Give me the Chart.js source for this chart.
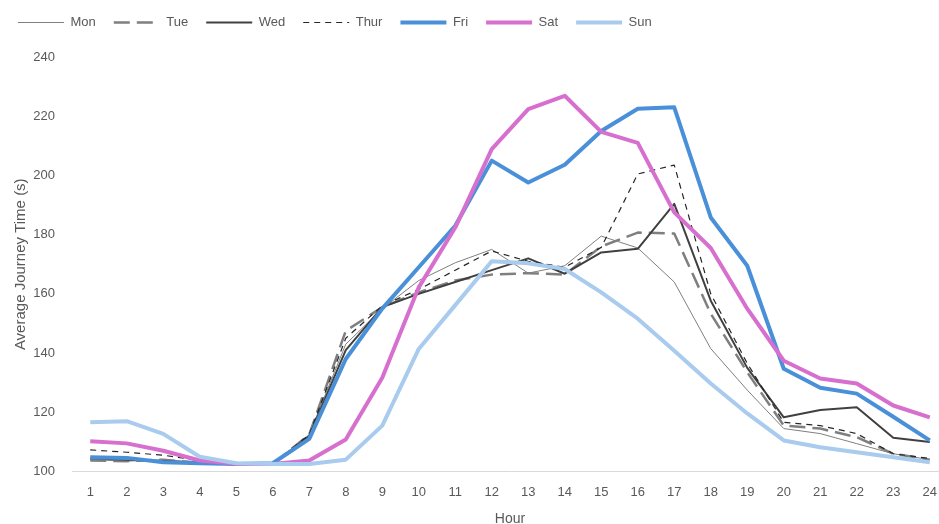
<!DOCTYPE html>
<html>
<head>
<meta charset="utf-8">
<script src="https://cdn.jsdelivr.net/npm/chart.js@4/dist/chart.umd.min.js"></script>
<style>
  html, body { margin: 0; padding: 0; background: #ffffff; overflow: hidden; width: 939px; height: 524px; }
  /* plot runs a few pixels past the right and bottom edges of the page */
  #wrap { width: 948px; height: 530px; position: absolute; left: 0; top: -2px; }
</style>
</head>
<body>
<div id="wrap"><canvas id="chart"></canvas></div>
<script>
// Average journey time (seconds) by hour of day, one series per weekday
const hours = ['1','2','3','4','5','6','7','8','9','10','11','12','13','14','15','16','17','18','19','20','21','22','23','24'];
const yTicks = [100, 120, 140, 160, 180, 200, 220, 240];

const mon  = [104, 103.5, 104, 103, 102.5, 102.5, 112.5, 143, 155, 164.5, 170.5, 175, 167, 169.5, 179.5, 175.5, 164, 141.5, 127.5, 114.5, 112.8, 109.4, 106, 104];
const tue  = [103.7, 103.5, 104, 103, 102.5, 102.5, 112.5, 147.5, 155.5, 160.5, 164.5, 166.5, 167, 166.5, 176, 180.7, 180.4, 153.3, 133.5, 115.5, 114.5, 111.6, 106, 104];
const wed  = [104.5, 104, 103.5, 103, 102.5, 102.5, 112, 141, 155.5, 160, 164, 168, 172, 166.8, 174, 175.2, 190.4, 157.7, 135, 118.3, 120.8, 121.7, 111.4, 110];
const thur = [107.3, 106.5, 105.5, 103.7, 102.5, 102.5, 112.5, 145, 156, 161.5, 168, 174.5, 171, 169, 175.7, 200.5, 203.5, 160, 136.5, 116.6, 115.5, 112.8, 106, 104.4];
const fri  = [104.8, 104.6, 103.1, 102.8, 102.5, 102.8, 111, 138, 155, 169, 183, 205, 197.6, 203.6, 215, 222.5, 223, 185.8, 169.5, 134.7, 128.3, 126.3, 118.5, 110.5];
const sat  = [110.2, 109.5, 107, 103.7, 102.6, 102.5, 103.7, 110.8, 131.7, 162.2, 182.4, 208.9, 222.4, 226.9, 214.7, 211, 187.5, 175.5, 155, 137.4, 131.4, 129.7, 122.3, 118.3];
const sun  = [116.6, 117, 112.7, 105, 102.8, 102.5, 102.5, 104, 115.5, 141.4, 156.2, 171, 170.3, 168.4, 160.5, 151.6, 140.8, 129.7, 119.6, 110.5, 108.2, 106.5, 104.8, 103.1];

const FONT = "'Liberation Sans', Arial, sans-serif";
const TEXT = '#595959';

function series(label, data, color, width, dash, order) {
  return {
    label, data,
    borderColor: color,
    backgroundColor: color,
    borderWidth: width,
    borderDash: dash,
    borderCapStyle: 'butt',
    borderJoinStyle: 'round',
    pointRadius: 0,
    pointHoverRadius: 0,
    tension: 0,
    fill: false,
    order
  };
}

// legend keys drawn as short line samples carrying each series' dash pattern
function lineLegendLabels(chart) {
  const items = Chart.defaults.plugins.legend.labels.generateLabels(chart);
  items.forEach(it => {
    const ds = chart.data.datasets[it.datasetIndex];
    it.lineDash = ds.borderDash;
    it.lineWidth = ds.borderWidth;
    it.strokeStyle = ds.borderColor;
    it.fillStyle = ds.borderColor;
    it.lineCap = 'butt';
  });
  return items;
}

new Chart(document.getElementById('chart'), {
  type: 'line',
  data: {
    labels: hours,
    datasets: [
      series('Mon',  mon,  '#7f7f7f', 1,   [],      6),
      series('Tue',  tue,  '#7f7f7f', 2.5, [16, 7], 5),
      series('Wed',  wed,  '#404040', 2,   [],      4),
      series('Thur', thur, '#262626', 1.2, [6, 5],  3),
      series('Fri',  fri,  '#4a90d9', 4,   [],      2),
      series('Sat',  sat,  '#d76fce', 4,   [],      1),
      series('Sun',  sun,  '#a8cbee', 4,   [],      0)
    ]
  },
  options: {
    responsive: true,
    maintainAspectRatio: false,
    animation: false,
    layout: { padding: { top: 0, right: 0, bottom: 0, left: 0 } },
    plugins: {
      tooltip: { enabled: false },
      legend: {
        position: 'top',
        align: 'start',
        labels: {
          usePointStyle: true,
          pointStyle: 'line',
          pointStyleWidth: 46,
          boxHeight: 13,
          padding: 18,
          color: TEXT,
          font: { family: FONT, size: 13 },
          generateLabels: lineLegendLabels,
          sort: (a, b) => a.datasetIndex - b.datasetIndex
        }
      }
    },
    scales: {
      x: {
        offset: true,
        grid: { display: false },
        border: { display: true, color: '#d9d9d9', width: 1 },
        ticks: { color: TEXT, font: { family: FONT, size: 13 }, padding: 5, maxRotation: 0, autoSkip: false },
        title: { display: true, text: 'Hour', color: TEXT, font: { family: FONT, size: 14 }, padding: { top: 4, bottom: 0 } },
        afterFit: (s) => { s.height = 56.5; }
      },
      // empty band between the legend and the plot
      spacer: {
        type: 'category',
        position: 'top',
        grid: { display: false },
        border: { display: false },
        ticks: { display: false },
        afterFit: (s) => { s.height = 18; }
      },
      y: {
        min: 100,
        max: 240,
        afterBuildTicks: (s) => { s.ticks = yTicks.map(v => ({ value: v })); },
        grid: { display: false },
        border: { display: false },
        ticks: { color: TEXT, font: { family: FONT, size: 13 }, padding: 9 },
        title: { display: true, text: 'Average Journey Time (s)', color: TEXT, font: { family: FONT, size: 15 }, padding: { top: 12, bottom: 4 } },
        afterFit: (s) => { s.width = 72; }
      }
    }
  }
});
</script>
</body>
</html>
